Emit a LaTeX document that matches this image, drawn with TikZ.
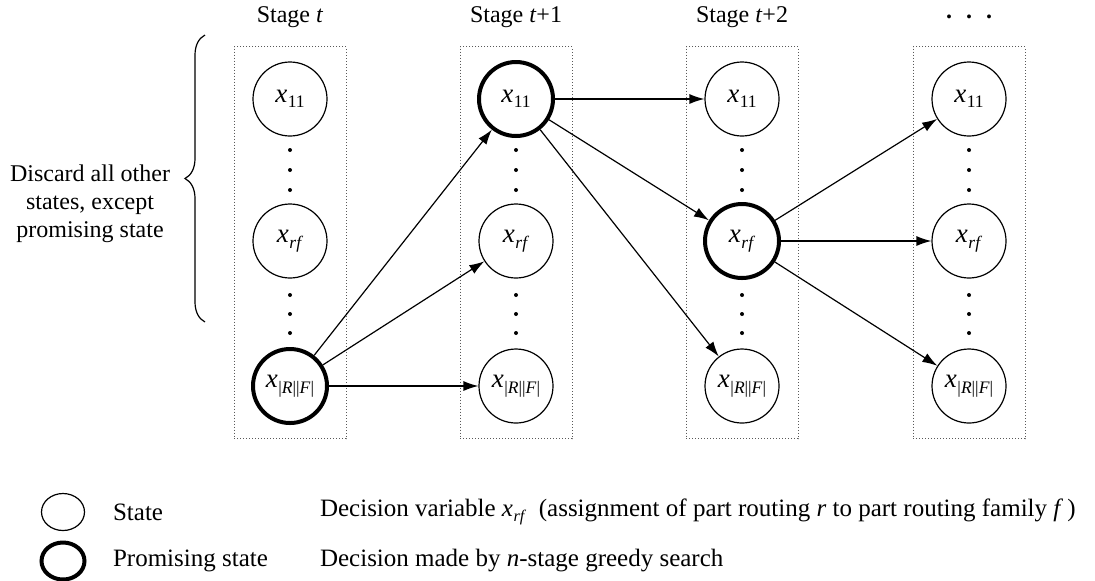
\documentclass[tikz,border=0pt]{standalone}
\usepackage{fontspec}
\setmainfont{Liberation Serif}
\usetikzlibrary{arrows.meta,decorations.pathreplacing,shapes.geometric}

\newcommand{\xsub}[1]{\textit{x}\kern0.3pt\raisebox{-0.45ex}{\scalebox{0.65}{#1}}}

\tikzset{
  state/.style={circle, draw, line width=0.6pt, minimum size=37pt, inner sep=0pt, font=\fontsize{13.5}{13.5}\selectfont},
  stagebox/.style={draw=black!65, densely dotted, line width=0.5pt, minimum width=56pt, minimum height=196pt, inner sep=0pt},
  edge/.style={-{Latex[length=7.5pt,width=5pt]}, line width=0.6pt},
  legtext/.style={anchor=west, font=\fontsize{12.5}{12.5}\selectfont},
  legmark/.style={ellipse, draw, minimum width=21.5pt, minimum height=18.5pt, inner sep=0pt}
}

\begin{document}
\begin{tikzpicture}[x=0.5pt, y=-0.5pt, font=\fontsize{12}{14}\selectfont]
 \useasboundingbox (0,0) rectangle (1095,580);

 % stages
 \foreach \i/\cx/\name/\wa/\wb/\wc in {1/290/{Stage \textit{t}}/0.6pt/0.6pt/2pt,
     2/516/{Stage \textit{t}+1}/2pt/0.6pt/0.6pt,
     3/742/{Stage \textit{t}+2}/0.6pt/2pt/0.6pt,
     4/969/{\textbf{.\hspace{7pt}.\hspace{7pt}.}}/0.6pt/0.6pt/0.6pt} {
   \node (lab\i) at (\cx,17) {\name};
   \node[stagebox] (box\i) at (\cx,242.5) {};
   \node[state, line width=\wa] (top\i) at (\cx,99) {\xsub{11}};
   \node[state, line width=\wb] (mid\i) at (\cx,241) {\xsub{\textit{rf}}};
   \node[state, line width=\wc] (bot\i) at (\cx,386) {\xsub{|\textit{R}||\textit{F}|}};
   \foreach \y in {150,170,190,295,314,333}
     \fill (\cx,\y) circle (1pt);
 }

 % lines
 \foreach \s/\d in {bot1/top2, bot1/mid2, bot1/bot2, top2/top3, top2/mid3, top2/bot3,
     mid3/top4, mid3/mid4, mid3/bot4}
   \draw[edge] (\s) -- (\d);

 % brace
 \coordinate (brbot) at (205,322);
 \coordinate (brtop) at (205,35);
 \draw[decorate, decoration={brace, amplitude=10pt}, line width=0.6pt] (brbot) -- (brtop);
 \node[align=center] (discard) at (90,204) {Discard all other\\states, except\\promising state};

 % legend
 \node[legmark, line width=0.6pt] (legstate) at (63,512) {};
 \node[legmark, line width=2pt] (legprom) at (63,561) {};
 \node[legtext] (legstatetxt) at (106,512) {State};
 \node[legtext] (legpromtxt) at (106,561) {Promising state};
 \node[legtext] (legvar) at (313,512) {Decision variable \xsub{\textit{rf}}\ \ (assignment of part routing \textit{r} to part routing family \textit{f}\,)};
 \node[legtext] (legdec) at (313,561) {Decision made by \textit{n}-stage greedy search};
\end{tikzpicture}
\end{document}
